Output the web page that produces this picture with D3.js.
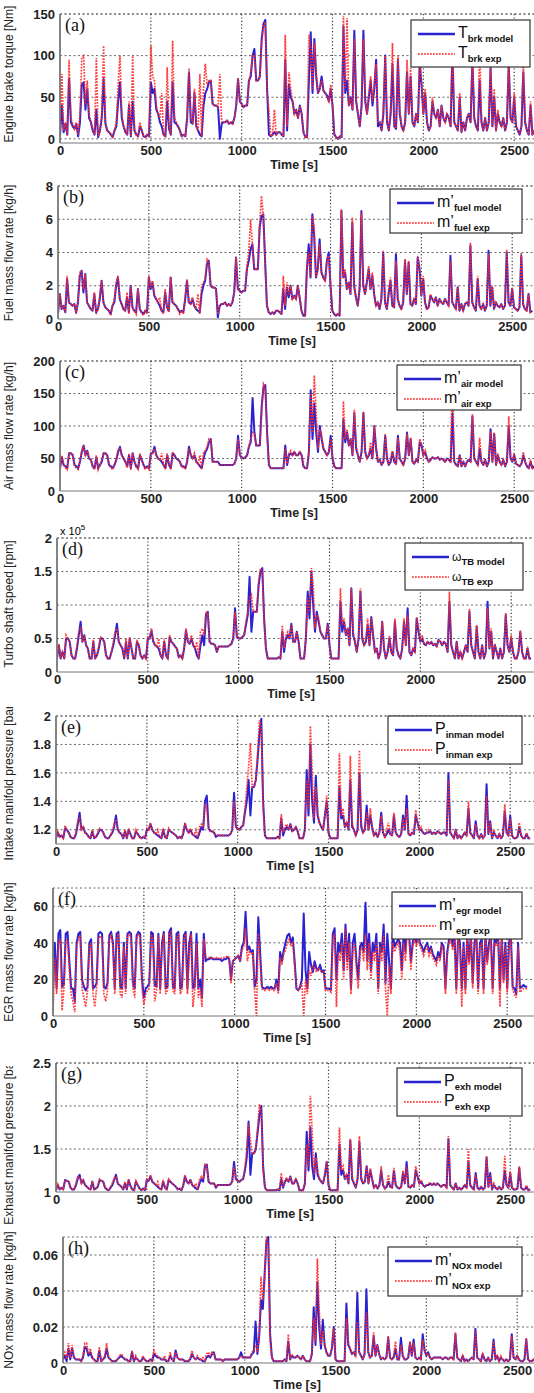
<!DOCTYPE html>
<html><head><meta charset="utf-8">
<script src="https://cdn.jsdelivr.net/npm/d3@7"></script>
<style>body{margin:0;background:#fff}svg{display:block}</style>
</head><body>
<svg id="chart" width="534" height="1393"></svg>
<script>
// ---- DATA (sampled every 10 s, t = 0 ... 2610 s) ----
const timeStep = 10;
const xTickValues = [0, 500, 1000, 1500, 2000, 2500];

const torqueModel = [3,40,8,18,5,72,20,15,12,18, 3,20,65,68,35,60,25,20,10,5, 35,2,10,25,72,18,10,8,5,2, 10,15,45,68,25,15,8,5,40,3, 45,10,5,3,15,10,3,2,5,3, 68,55,60,35,30,20,15,5,3,45, 12,5,68,20,18,15,10,3,5,3, 25,80,20,18,55,15,10,5,3,40, 55,60,68,70,42,40,40,38,0,18, 20,20,22,18,20,18,25,40,72,45, 42,38,40,40,70,75,100,108,70,70, 75,120,138,143,60,5,3,5,8,5, 8,8,5,3,95,10,65,50,45,30, 35,25,40,30,8,2,2,70,128,55, 120,75,55,60,75,58,55,52,45,60, 40,5,2,0,3,2,135,55,70,40, 50,35,130,45,30,15,40,130,45,30, 50,70,40,60,95,15,20,10,30,100, 20,10,30,90,15,12,95,30,15,10, 20,80,30,75,20,15,30,20,90,65, 30,55,20,10,15,45,30,25,35,15, 40,25,20,30,25,15,105,20,15,10, 50,8,20,10,25,30,20,95,25,15, 10,70,20,10,25,10,20,85,15,50, 10,30,20,15,25,10,20,90,25,20, 50,15,10,5,15,80,20,10,5,40, 5,10];
const torqueExp = [5,78,10,20,5,95,25,18,12,20, 5,30,98,100,40,70,30,20,12,5, 97,3,10,30,112,20,10,8,5,2, 10,20,65,100,30,15,10,5,45,3, 100,10,5,3,20,10,3,2,5,3, 112,75,70,40,30,25,55,5,3,86, 15,5,118,25,20,15,10,3,5,3, 30,85,25,18,60,15,10,78,3,60, 90,65,70,70,42,40,40,38,78,20, 20,20,22,18,20,18,25,40,72,45, 42,38,40,40,70,80,100,100,70,70, 75,115,135,140,55,35,3,5,35,5, 8,8,5,3,125,15,80,60,45,30, 35,25,40,30,8,2,2,125,110,60, 115,80,55,60,70,58,55,50,45,65, 40,5,2,0,3,2,148,60,145,40, 50,35,120,45,30,15,40,120,50,30, 55,75,45,65,90,20,20,10,35,100, 25,10,35,115,15,12,100,35,15,10, 20,95,30,85,20,15,30,20,100,70, 30,60,20,10,15,50,30,25,35,15, 40,25,20,30,25,15,120,20,15,10, 55,8,20,10,25,30,20,100,25,15, 10,110,20,10,25,10,20,90,15,60, 10,35,20,15,25,10,20,95,25,20, 55,15,10,5,15,90,20,10,5,45, 5,10];

const fuelModel = [0.3,1.5,0.6,0.8,0.4,2.4,1.0,0.9,0.8,0.9, 0.4,1.0,2.6,2.9,1.6,2.7,1.0,0.8,0.6,0.5, 1.5,0.4,0.6,1.2,2.3,1.0,0.7,0.6,0.5,0.3, 0.8,1.0,2.0,2.5,1.2,0.9,0.6,0.5,1.3,0.4, 2.0,0.7,0.5,0.4,1.8,0.6,0.4,0.3,0.5,0.4, 2.5,1.8,2.2,1.4,1.2,1.0,0.8,0.5,0.4,1.6, 0.7,0.5,2.5,1.0,0.9,0.8,0.6,0.4,0.5,0.4, 1.2,2.3,1.0,0.9,1.2,0.8,0.6,0.5,0.4,1.5, 2.0,2.3,3.3,3.5,2.0,1.9,1.9,1.8,0.1,0.8, 0.9,0.9,1.0,0.8,0.9,0.8,1.0,1.6,3.7,1.8, 1.7,1.6,1.7,1.7,3.0,3.5,4.2,4.5,3.0,3.0, 3.0,5.5,6.2,6.3,3.5,0.8,0.4,0.3,0.4,0.3, 0.5,0.5,0.4,0.3,1.8,0.6,1.9,1.3,2.0,1.2, 1.4,1.2,2.0,1.3,0.5,0.2,0.2,3.0,4.5,2.5, 6.3,5.0,2.5,3.0,4.8,2.8,2.5,2.3,3.5,4.0, 2.0,0.5,0.3,0.2,0.3,0.2,6.5,2.5,2.8,1.8, 2.2,1.5,5.8,2.0,1.3,0.8,1.8,6.5,2.0,1.5, 2.2,3.0,1.8,2.6,1.5,0.8,1.0,0.6,1.2,4.0, 1.0,0.6,1.5,2.3,0.8,0.7,3.9,1.2,0.8,0.6, 1.0,3.5,1.5,3.4,0.9,0.8,1.2,0.9,3.7,3.0, 1.4,2.4,1.0,0.6,0.7,1.4,1.2,1.0,1.3,0.8, 1.2,1.0,0.9,1.2,1.0,0.8,3.8,1.0,0.8,0.6, 1.9,0.5,0.9,0.5,0.9,1.0,0.8,4.4,1.0,0.7, 0.5,2.4,0.8,0.6,0.9,0.5,0.8,4.1,0.8,1.9, 0.6,1.0,0.8,0.7,0.9,0.6,0.8,4.0,1.0,0.8, 1.8,0.7,0.6,0.5,0.7,3.8,0.9,0.6,0.5,1.5, 0.4,0.5];
const fuelExp = [0.3,1.5,0.6,0.8,0.4,2.6,1.0,0.9,0.8,0.9, 0.3,1.2,2.8,2.9,1.8,2.7,1.0,0.8,0.6,0.5, 1.6,0.3,0.6,1.4,2.3,1.0,0.7,0.6,0.5,0.2, 0.8,1.2,2.2,2.6,1.3,0.9,0.6,0.5,1.6,0.3, 2.0,0.7,0.5,0.3,1.8,0.6,0.4,0.2,0.5,0.3, 2.6,1.9,2.3,1.5,1.2,1.0,1.3,0.5,0.3,1.8, 0.7,0.4,2.5,1.1,0.9,0.8,0.6,0.3,0.5,0.3, 1.3,2.4,1.0,0.9,1.3,0.8,0.6,1.5,0.3,2.0, 2.2,2.4,3.6,3.5,2.0,1.9,1.9,1.8,0.3,0.8, 0.9,0.9,1.0,0.8,0.9,0.8,1.0,1.6,3.7,1.8, 1.7,1.6,1.7,1.7,3.2,4.0,6.0,4.5,3.0,3.0, 3.0,5.8,7.4,6.2,3.3,0.8,0.4,0.3,0.4,0.3, 0.5,0.5,0.4,0.3,2.6,0.8,2.2,1.5,2.0,1.2, 1.4,1.2,2.0,1.3,0.5,0.2,0.2,3.2,4.0,2.5, 6.2,5.5,2.5,3.0,4.5,2.8,2.5,2.3,3.5,3.8, 2.0,0.5,0.3,0.2,0.3,0.2,6.6,2.5,3.0,1.8, 2.2,1.5,6.1,2.0,1.3,0.8,1.8,6.4,2.0,1.5, 2.2,3.2,1.8,2.8,1.5,0.8,1.0,0.6,1.2,4.1, 1.0,0.6,1.7,2.5,0.8,0.7,3.5,1.2,0.8,0.6, 1.0,3.6,1.5,3.5,0.9,0.8,1.2,0.9,3.8,3.0, 1.4,2.6,1.0,0.6,0.7,1.5,1.2,1.0,1.3,0.8, 1.2,1.0,0.9,1.2,1.0,0.8,3.5,1.0,0.8,0.6, 2.0,0.5,0.9,0.5,0.9,1.0,0.8,4.6,1.0,0.7, 0.5,2.6,0.8,0.6,0.9,0.5,0.8,3.9,0.8,2.0, 0.6,1.0,0.8,0.7,0.9,0.6,0.8,4.2,1.0,0.8, 1.9,0.7,0.6,0.5,0.7,4.0,0.9,0.6,0.5,1.5, 0.4,0.5];

const airModel = [35,52,40,38,35,58,58,55,40,38, 35,45,60,70,55,62,50,48,38,35, 52,35,40,45,58,58,55,40,38,35, 40,48,60,68,55,50,45,38,55,35, 58,45,38,35,55,48,40,35,38,35, 58,58,68,55,50,48,45,40,35,55, 40,35,58,55,50,48,45,38,38,35, 45,68,55,50,55,45,42,38,35,50, 60,65,75,80,45,45,45,45,40,40, 40,40,40,40,40,40,42,50,85,55, 52,50,52,55,68,75,143,90,70,70, 70,130,160,163,90,40,35,35,35,35, 35,35,35,35,70,40,55,58,55,60, 55,55,60,55,38,35,35,60,155,80, 135,90,60,100,80,65,60,55,60,85, 50,38,35,35,35,35,110,75,90,70, 80,55,120,65,55,45,60,120,60,50, 55,65,50,100,65,45,48,40,45,85, 50,40,45,60,45,42,85,50,45,40, 50,90,55,80,45,42,48,45,75,70, 55,60,50,45,48,52,50,50,52,48, 50,48,45,50,48,45,120,45,40,38, 55,38,45,38,45,48,45,115,50,45, 40,65,45,40,48,38,45,95,45,88, 40,55,45,40,48,38,45,100,50,45, 55,42,40,38,42,55,45,38,35,45, 35,38];
const airExp = [33,55,40,36,33,58,58,55,38,35, 33,48,62,68,55,62,50,48,36,33, 55,33,40,48,58,58,55,40,36,33, 40,50,62,65,55,50,45,36,58,33, 58,45,36,33,58,48,40,33,38,33, 58,58,65,55,50,48,58,40,33,58, 40,33,60,55,50,48,45,36,38,33, 48,65,55,50,58,45,42,55,33,60, 62,68,80,78,45,45,45,45,40,40, 40,40,40,40,40,40,42,50,80,55, 52,50,52,55,70,80,90,88,70,70, 72,120,165,160,85,40,35,35,35,35, 35,35,35,35,65,42,58,62,55,60, 55,55,60,55,38,35,35,60,150,90, 178,120,65,95,85,65,60,55,60,80, 50,38,35,35,35,35,138,80,95,70, 80,55,125,70,55,45,60,122,60,50, 55,75,50,100,65,45,48,40,45,88, 50,40,48,62,45,42,82,50,45,40, 50,88,55,82,45,42,48,45,80,72, 55,62,50,45,48,52,50,50,52,48, 50,48,45,50,48,45,190,45,40,38, 55,38,45,38,45,48,45,118,50,45, 40,82,45,40,48,38,45,92,45,90, 40,58,45,40,48,38,45,115,50,45, 58,42,40,38,42,60,45,38,35,48, 35,38];

const turboModel = [0.2,0.4,0.2,0.3,0.2,0.5,0.5,0.45,0.25,0.2, 0.2,0.35,0.55,0.75,0.45,0.55,0.4,0.35,0.2,0.2, 0.45,0.2,0.25,0.35,0.5,0.5,0.45,0.25,0.2,0.2, 0.3,0.4,0.55,0.72,0.45,0.4,0.35,0.2,0.45,0.2, 0.5,0.35,0.2,0.2,0.45,0.4,0.25,0.2,0.25,0.2, 0.5,0.5,0.62,0.45,0.4,0.38,0.35,0.25,0.2,0.45, 0.25,0.2,0.52,0.45,0.42,0.38,0.35,0.22,0.25,0.2, 0.35,0.62,0.45,0.42,0.5,0.4,0.35,0.25,0.2,0.4, 0.55,0.4,0.85,0.9,0.45,0.42,0.42,0.4,0.3,0.38, 0.38,0.38,0.38,0.38,0.38,0.4,0.42,0.5,0.95,0.52, 0.5,0.5,0.52,0.55,0.7,0.85,1.42,0.6,0.9,0.9, 0.9,1.3,1.5,1.55,0.8,0.35,0.2,0.2,0.2,0.2, 0.2,0.2,0.22,0.2,0.6,0.3,0.5,0.55,0.5,0.72, 0.45,0.45,0.6,0.45,0.2,0.2,0.2,0.5,1.2,0.8, 1.5,1.0,0.6,0.9,0.75,0.6,0.55,0.5,0.5,0.72, 0.4,0.2,0.2,0.2,0.2,0.2,1.05,0.6,0.75,0.55, 0.65,0.4,1.25,0.55,0.45,0.3,0.5,1.2,0.5,0.4, 0.45,0.7,0.4,0.82,0.55,0.3,0.35,0.2,0.3,0.75, 0.35,0.2,0.3,0.5,0.3,0.25,0.75,0.35,0.25,0.2, 0.35,0.75,0.4,0.95,0.3,0.25,0.35,0.3,0.8,0.6, 0.45,0.5,0.42,0.4,0.45,0.42,0.45,0.4,0.42,0.38, 0.48,0.45,0.4,0.45,0.42,0.3,1.05,0.4,0.3,0.2, 0.45,0.2,0.3,0.2,0.3,0.4,0.3,0.9,0.4,0.3, 0.2,0.68,0.3,0.2,0.4,0.2,0.3,1.05,0.35,0.6, 0.2,0.4,0.3,0.2,0.35,0.2,0.3,0.85,0.4,0.3, 0.5,0.3,0.2,0.2,0.3,0.6,0.3,0.2,0.2,0.35, 0.2,0.2];
const turboExp = [0.2,0.42,0.2,0.3,0.2,0.55,0.5,0.45,0.25,0.2, 0.2,0.4,0.6,0.65,0.45,0.55,0.4,0.35,0.2,0.2, 0.48,0.2,0.25,0.38,0.52,0.5,0.45,0.25,0.2,0.2, 0.3,0.45,0.6,0.65,0.45,0.4,0.35,0.2,0.5,0.2, 0.52,0.35,0.2,0.2,0.48,0.4,0.25,0.2,0.25,0.2, 0.52,0.5,0.65,0.48,0.4,0.38,0.5,0.25,0.2,0.5, 0.25,0.2,0.55,0.45,0.42,0.38,0.35,0.22,0.25,0.2, 0.38,0.65,0.45,0.42,0.55,0.4,0.35,0.45,0.2,0.6, 0.65,0.55,0.9,0.88,0.45,0.42,0.42,0.4,0.3,0.38, 0.38,0.38,0.38,0.38,0.38,0.4,0.42,0.5,0.9,0.52, 0.5,0.5,0.52,0.55,0.75,0.9,1.1,1.15,0.9,0.9, 0.9,1.35,1.55,1.5,0.75,0.35,0.2,0.2,0.2,0.2, 0.2,0.2,0.22,0.2,0.7,0.35,0.55,0.6,0.5,0.7, 0.45,0.45,0.6,0.45,0.2,0.2,0.2,0.55,1.1,0.9, 1.55,1.3,0.65,0.85,0.8,0.6,0.55,0.5,0.5,0.7, 0.4,0.2,0.2,0.2,0.2,0.2,1.25,0.7,0.8,0.55, 0.65,0.4,1.25,0.6,0.45,0.3,0.5,1.25,0.55,0.4, 0.45,0.8,0.4,0.82,0.55,0.3,0.35,0.2,0.3,0.75, 0.35,0.2,0.3,0.55,0.3,0.25,0.8,0.35,0.25,0.2, 0.35,0.8,0.4,0.85,0.3,0.25,0.35,0.3,0.82,0.65, 0.45,0.55,0.42,0.4,0.45,0.42,0.45,0.4,0.42,0.38, 0.48,0.45,0.4,0.45,0.42,0.3,1.2,0.4,0.3,0.2, 0.45,0.2,0.3,0.2,0.3,0.4,0.3,0.95,0.4,0.3, 0.2,0.7,0.3,0.2,0.4,0.2,0.3,0.95,0.35,0.65, 0.2,0.42,0.3,0.2,0.35,0.2,0.3,0.88,0.4,0.3, 0.55,0.3,0.2,0.2,0.3,0.62,0.3,0.2,0.2,0.38, 0.2,0.2];

const intakeModel = [1.14,1.18,1.15,1.16,1.14,1.21,1.2,1.18,1.15,1.14, 1.14,1.17,1.24,1.32,1.2,1.22,1.18,1.17,1.15,1.14, 1.19,1.14,1.15,1.17,1.2,1.2,1.18,1.15,1.14,1.14, 1.16,1.18,1.22,1.3,1.2,1.18,1.17,1.14,1.19,1.14, 1.2,1.17,1.14,1.14,1.19,1.17,1.15,1.14,1.15,1.14, 1.2,1.2,1.24,1.2,1.18,1.17,1.16,1.15,1.14,1.2, 1.15,1.14,1.2,1.19,1.18,1.17,1.16,1.14,1.15,1.14, 1.17,1.24,1.2,1.18,1.2,1.17,1.16,1.15,1.14,1.18, 1.22,1.2,1.4,1.44,1.21,1.19,1.19,1.18,1.15,1.16, 1.16,1.16,1.16,1.16,1.16,1.16,1.17,1.2,1.46,1.22, 1.21,1.2,1.22,1.23,1.32,1.4,1.55,1.3,1.5,1.5, 1.55,1.7,1.88,1.98,1.4,1.16,1.14,1.14,1.14,1.14, 1.14,1.14,1.15,1.14,1.28,1.16,1.2,1.22,1.2,1.24, 1.19,1.2,1.22,1.19,1.14,1.14,1.14,1.2,1.62,1.3, 1.8,1.4,1.25,1.58,1.3,1.25,1.22,1.2,1.3,1.4, 1.18,1.14,1.14,1.14,1.14,1.14,1.5,1.28,1.3,1.22, 1.25,1.2,1.55,1.22,1.2,1.16,1.2,1.6,1.22,1.18, 1.2,1.37,1.2,1.3,1.22,1.16,1.18,1.15,1.18,1.32, 1.18,1.15,1.17,1.2,1.17,1.16,1.3,1.18,1.16,1.15, 1.17,1.3,1.2,1.44,1.17,1.16,1.18,1.17,1.3,1.25, 1.2,1.2,1.18,1.17,1.18,1.18,1.19,1.17,1.18,1.17, 1.19,1.18,1.17,1.18,1.18,1.16,1.6,1.18,1.16,1.14, 1.2,1.14,1.16,1.14,1.16,1.18,1.16,1.35,1.18,1.16, 1.14,1.26,1.16,1.14,1.17,1.14,1.16,1.52,1.17,1.26, 1.14,1.18,1.16,1.14,1.17,1.14,1.16,1.33,1.18,1.16, 1.3,1.16,1.14,1.14,1.15,1.22,1.16,1.14,1.14,1.17, 1.14,1.14];
const intakeExp = [1.14,1.19,1.15,1.16,1.14,1.23,1.2,1.18,1.15,1.14, 1.14,1.18,1.26,1.28,1.2,1.22,1.18,1.17,1.15,1.14, 1.2,1.14,1.15,1.18,1.21,1.2,1.18,1.15,1.14,1.14, 1.16,1.19,1.24,1.27,1.2,1.18,1.17,1.14,1.2,1.14, 1.21,1.17,1.14,1.14,1.2,1.17,1.15,1.14,1.15,1.14, 1.21,1.2,1.25,1.2,1.18,1.17,1.2,1.15,1.14,1.21, 1.15,1.14,1.21,1.19,1.18,1.17,1.16,1.14,1.15,1.14, 1.18,1.25,1.2,1.18,1.21,1.17,1.16,1.2,1.14,1.22, 1.24,1.22,1.38,1.35,1.21,1.19,1.19,1.18,1.16,1.16, 1.16,1.16,1.16,1.16,1.16,1.16,1.17,1.2,1.4,1.22, 1.21,1.2,1.22,1.23,1.35,1.5,1.64,1.81,1.5,1.5, 1.55,1.75,1.97,1.92,1.35,1.16,1.14,1.14,1.14,1.14, 1.14,1.14,1.15,1.14,1.31,1.18,1.22,1.24,1.2,1.24, 1.19,1.2,1.22,1.19,1.14,1.14,1.14,1.2,1.55,1.35, 1.93,1.6,1.28,1.5,1.32,1.25,1.22,1.2,1.3,1.44, 1.18,1.14,1.14,1.14,1.14,1.14,1.74,1.3,1.35,1.22, 1.25,1.2,1.72,1.25,1.2,1.16,1.2,1.76,1.25,1.18, 1.2,1.32,1.2,1.35,1.22,1.16,1.18,1.15,1.18,1.3, 1.18,1.15,1.2,1.25,1.17,1.16,1.32,1.18,1.16,1.15, 1.17,1.28,1.2,1.35,1.17,1.16,1.18,1.17,1.34,1.25, 1.2,1.22,1.18,1.17,1.18,1.2,1.19,1.17,1.18,1.17, 1.19,1.18,1.17,1.18,1.18,1.16,1.55,1.18,1.16,1.14, 1.2,1.14,1.16,1.14,1.16,1.18,1.16,1.4,1.18,1.16, 1.14,1.24,1.16,1.14,1.17,1.14,1.16,1.44,1.17,1.25, 1.14,1.2,1.16,1.14,1.17,1.14,1.16,1.38,1.18,1.16, 1.28,1.16,1.14,1.14,1.15,1.25,1.16,1.14,1.14,1.18, 1.14,1.14];

const egrModel = [15,40,15,45,47,16,17,45,46,30, 15,15,8,40,45,46,20,16,14,16, 40,42,15,16,18,45,46,45,16,15, 18,44,46,40,15,45,46,16,15,40, 15,45,46,45,18,15,44,46,45,20, 10,15,16,18,46,45,17,16,45,15, 40,46,15,16,46,48,16,15,45,46, 15,16,44,46,15,40,46,15,16,45, 15,20,10,45,30,31,31,32,31,31, 31,31,31,30,31,31,32,31,20,30, 31,32,33,30,38,40,57,36,38,35, 36,16,20,54,35,16,15,15,16,15, 16,15,15,20,14,35,30,36,40,44, 45,40,43,30,15,14,16,20,56,25, 15,35,28,24,30,26,25,28,24,25, 15,15,15,14,45,48,20,40,35,45, 25,50,30,45,15,40,45,30,20,38, 40,35,62,30,45,25,40,35,45,15, 40,35,50,18,45,30,15,45,38,40, 42,40,25,45,35,50,45,30,40,45, 40,45,40,38,35,38,40,35,38,34, 32,30,35,32,40,38,15,35,42,45, 38,45,15,45,40,15,40,15,44,30, 45,18,40,45,15,40,42,15,45,30, 40,45,15,42,40,45,15,44,20,40, 15,40,45,16,15,12,40,15,16,17, 16,16];
const egrExp = [2,32,12,40,42,3,15,40,42,25, 12,8,2,38,42,44,15,10,5,14, 38,40,12,5,15,42,44,42,12,8, 14,42,44,38,12,42,45,12,10,38, 12,44,45,42,15,10,42,45,42,15, 6,12,14,15,44,43,8,14,44,12, 38,45,12,14,45,46,14,12,42,45, 12,14,42,45,12,35,45,5,14,40, 10,15,5,42,32,32,32,32,31,32, 32,32,31,32,32,32,33,32,18,30, 31,32,33,30,36,38,48,30,35,34, 35,14,0,45,30,15,14,14,15,14, 15,14,14,18,12,32,28,34,36,40, 42,38,40,28,15,14,15,18,0,20, 12,25,22,28,26,24,26,25,24,24, 14,14,14,13,42,45,5,35,30,40, 20,48,25,40,12,35,40,25,15,35, 38,30,45,25,40,20,35,30,40,12, 38,30,45,15,0,28,12,40,35,38, 40,35,20,40,30,48,42,25,38,42, 38,42,38,36,33,36,38,33,36,32, 30,28,33,30,38,36,12,33,40,42, 36,42,12,42,38,5,38,12,42,28, 42,15,38,42,12,38,40,12,42,28, 38,42,12,40,38,42,5,42,18,38, 12,38,42,14,12,10,38,13,14,15, 15,15];

const exhaustModel = [1.02,1.08,1.03,1.05,1.03,1.14,1.13,1.12,1.05,1.03, 1.03,1.08,1.16,1.2,1.1,1.14,1.08,1.06,1.04,1.03, 1.12,1.03,1.04,1.06,1.14,1.13,1.12,1.05,1.03,1.02, 1.05,1.08,1.14,1.2,1.1,1.08,1.06,1.03,1.1,1.03, 1.14,1.07,1.03,1.02,1.12,1.08,1.04,1.02,1.04,1.02, 1.14,1.13,1.18,1.12,1.1,1.08,1.06,1.04,1.03,1.12, 1.05,1.03,1.14,1.12,1.1,1.08,1.06,1.03,1.04,1.02, 1.07,1.18,1.12,1.1,1.14,1.08,1.06,1.04,1.03,1.1, 1.15,1.12,1.3,1.32,1.12,1.1,1.1,1.1,1.05,1.08, 1.08,1.08,1.08,1.08,1.08,1.08,1.09,1.12,1.35,1.15, 1.13,1.12,1.14,1.15,1.25,1.4,1.82,1.2,1.45,1.45, 1.5,1.7,1.9,2.0,1.3,1.05,1.02,1.02,1.02,1.02, 1.02,1.02,1.03,1.02,1.15,1.05,1.12,1.15,1.12,1.18, 1.1,1.1,1.15,1.1,1.02,1.02,1.02,1.1,1.7,1.25, 1.75,1.3,1.15,1.45,1.2,1.15,1.12,1.1,1.2,1.35, 1.08,1.02,1.02,1.02,1.02,1.02,1.55,1.2,1.25,1.15, 1.2,1.1,1.6,1.15,1.1,1.05,1.15,1.58,1.15,1.1, 1.12,1.3,1.1,1.25,1.15,1.05,1.08,1.04,1.08,1.25, 1.08,1.04,1.06,1.12,1.06,1.05,1.25,1.08,1.05,1.04, 1.06,1.22,1.1,1.35,1.06,1.05,1.08,1.06,1.25,1.18, 1.1,1.12,1.08,1.06,1.08,1.08,1.1,1.08,1.1,1.08, 1.1,1.08,1.06,1.08,1.08,1.05,1.62,1.08,1.05,1.03, 1.1,1.03,1.05,1.03,1.05,1.08,1.05,1.35,1.08,1.05, 1.03,1.22,1.05,1.03,1.06,1.03,1.05,1.4,1.06,1.22, 1.03,1.08,1.05,1.03,1.06,1.03,1.05,1.25,1.08,1.05, 1.22,1.05,1.03,1.03,1.04,1.28,1.05,1.03,1.03,1.06, 1.02,1.03];
const exhaustExp = [1.02,1.09,1.03,1.05,1.03,1.14,1.13,1.12,1.05,1.03, 1.03,1.1,1.18,1.18,1.1,1.14,1.08,1.06,1.04,1.03, 1.13,1.03,1.04,1.07,1.15,1.13,1.12,1.05,1.03,1.02, 1.05,1.1,1.16,1.18,1.1,1.08,1.06,1.03,1.12,1.03, 1.15,1.07,1.03,1.02,1.13,1.08,1.04,1.02,1.04,1.02, 1.15,1.14,1.2,1.12,1.1,1.08,1.12,1.04,1.03,1.14, 1.05,1.03,1.15,1.12,1.1,1.08,1.06,1.03,1.04,1.02, 1.08,1.2,1.12,1.1,1.15,1.08,1.06,1.1,1.03,1.15, 1.18,1.15,1.32,1.3,1.12,1.1,1.1,1.1,1.06,1.08, 1.08,1.08,1.08,1.08,1.08,1.08,1.09,1.12,1.3,1.15, 1.13,1.12,1.14,1.15,1.28,1.5,1.8,1.6,1.45,1.45, 1.5,1.75,2.02,1.95,1.25,1.05,1.02,1.02,1.02,1.02, 1.02,1.02,1.03,1.02,1.22,1.06,1.14,1.16,1.12,1.18, 1.1,1.1,1.15,1.1,1.02,1.02,1.02,1.1,1.55,1.3, 2.12,1.7,1.2,1.4,1.25,1.15,1.12,1.1,1.2,1.36, 1.08,1.02,1.02,1.02,1.02,1.02,1.75,1.25,1.3,1.15, 1.2,1.1,1.62,1.18,1.1,1.05,1.15,1.65,1.18,1.1, 1.12,1.3,1.1,1.28,1.15,1.05,1.08,1.04,1.08,1.3, 1.08,1.04,1.08,1.2,1.06,1.05,1.28,1.08,1.05,1.04, 1.06,1.25,1.1,1.3,1.06,1.05,1.08,1.06,1.3,1.2, 1.1,1.14,1.08,1.06,1.08,1.1,1.1,1.08,1.1,1.08, 1.1,1.08,1.06,1.08,1.08,1.05,1.65,1.08,1.05,1.03, 1.1,1.03,1.05,1.03,1.05,1.08,1.05,1.5,1.08,1.05, 1.03,1.2,1.05,1.03,1.06,1.03,1.05,1.42,1.06,1.2, 1.03,1.1,1.05,1.03,1.06,1.03,1.05,1.42,1.08,1.05, 1.24,1.05,1.03,1.03,1.04,1.3,1.05,1.03,1.03,1.08, 1.02,1.03];

const noxModel = [.002,.004,.001,.008,.002,.008,.003,.002,.002,.002, .001,.003,.009,.008,.004,.006,.003,.002,.001,.001, .007,.001,.002,.003,.008,.003,.002,.001,.001,.001, .002,.003,.004,.003,.002,.002,.001,.001,.006,.001, .003,.002,.001,.001,.003,.002,.001,.001,.002,.001, .005,.004,.003,.003,.002,.002,.002,.001,.001,.004, .002,.001,.007,.003,.002,.002,.002,.001,.001,.001, .002,.005,.003,.002,.003,.002,.002,.001,.001,.003, .004,.003,.005,.006,.002,.002,.002,.002,.001,.002, .002,.002,.002,.002,.002,.002,.002,.003,.006,.003, .003,.003,.003,.003,.005,.006,.023,.005,.015,.035, .03,.05,.068,.07,.016,.003,.001,.001,.001,.001, .001,.001,.002,.001,.012,.002,.004,.003,.003,.004, .003,.002,.004,.002,.001,.001,.001,.005,.031,.01, .045,.02,.008,.024,.01,.006,.004,.004,.008,.02, .002,.001,.001,.001,.001,.001,.033,.01,.008,.005, .006,.004,.039,.006,.004,.002,.005,.041,.006,.003, .004,.015,.004,.01,.005,.002,.003,.002,.003,.014, .003,.002,.003,.008,.002,.002,.014,.004,.002,.002, .003,.011,.004,.013,.003,.002,.003,.002,.016,.007, .004,.006,.003,.002,.003,.003,.003,.003,.003,.002, .003,.003,.002,.003,.003,.002,.016,.003,.002,.001, .004,.001,.002,.001,.002,.003,.002,.019,.003,.002, .001,.005,.002,.001,.003,.001,.002,.013,.002,.004, .001,.003,.002,.001,.002,.001,.002,.016,.003,.002, .004,.002,.001,.001,.002,.013,.002,.001,.001,.002, .001,.001];
const noxExp = [.004,.006,.002,.011,.003,.01,.004,.002,.002,.002, .001,.004,.011,.011,.005,.008,.004,.002,.001,.001, .009,.001,.002,.004,.011,.004,.002,.001,.001,.001, .002,.004,.005,.004,.002,.002,.001,.001,.007,.001, .004,.002,.001,.001,.004,.002,.001,.001,.002,.001, .007,.005,.004,.003,.002,.002,.004,.001,.001,.006, .002,.001,.006,.003,.002,.002,.002,.001,.001,.001, .003,.007,.003,.002,.004,.002,.002,.003,.001,.005, .006,.004,.006,.005,.002,.002,.002,.002,.001,.002, .002,.002,.002,.002,.002,.002,.002,.003,.004,.003, .003,.003,.003,.003,.006,.007,.01,.006,.015,.048, .035,.045,.07,.065,.012,.003,.001,.001,.001,.001, .001,.001,.002,.001,.016,.003,.005,.003,.003,.004, .003,.002,.004,.002,.001,.001,.001,.006,.025,.012, .058,.03,.01,.018,.01,.006,.004,.004,.008,.019, .002,.001,.001,.001,.001,.001,.025,.012,.008,.005, .006,.004,.023,.006,.004,.002,.005,.028,.006,.003, .004,.017,.004,.01,.005,.002,.003,.002,.003,.015, .003,.002,.004,.012,.002,.002,.01,.004,.002,.002, .003,.012,.004,.011,.003,.002,.003,.002,.013,.007, .004,.005,.003,.002,.003,.003,.003,.003,.003,.002, .003,.003,.002,.003,.003,.002,.017,.003,.002,.001, .004,.001,.002,.001,.002,.003,.002,.018,.003,.002, .001,.005,.002,.001,.003,.001,.002,.012,.002,.004, .001,.004,.002,.001,.002,.001,.002,.015,.003,.002, .004,.002,.001,.001,.002,.014,.002,.001,.001,.002, .001,.001];

// y tick values per panel
const torqueTicks = [0, 50, 100, 150];
const fuelTicks = [0, 2, 4, 6, 8];
const airTicks = [0, 50, 100, 150, 200];
const turboTicks = [0, 0.5, 1, 1.5, 2];
const intakeTicks = [1.2, 1.4, 1.6, 1.8, 2];
const egrTicks = [0, 20, 40, 60];
const exhaustTicks = [1, 1.5, 2, 2.5];
const noxTicks = [0, 0.02, 0.04, 0.06];

// ---- LAYOUT ----
const panels = [
  {tag:"(a)", model:torqueModel, exp:torqueExp, ticks:torqueTicks, domain:[-5,150], left:60, top:14, bottom:143,
   ylabel:"Engine brake  torque [Nm]", ly:74, clip:[0,172], sym:"T", sub:"brk", legend:[411,20,119,47]},
  {tag:"(b)", model:fuelModel, exp:fuelExp, ticks:fuelTicks, domain:[0,8], left:58, top:186, bottom:319,
   ylabel:"Fuel mass flow rate [kg/h]", ly:253, clip:[172,350], sym:"m\u2019", sub:"fuel", legend:[390,189,132,44]},
  {tag:"(c)", model:airModel, exp:airExp, ticks:airTicks, domain:[0,200], left:60, top:361, bottom:491,
   ylabel:"Air mass flow rate [kg/h]", ly:426, clip:[350,522], sym:"m\u2019", sub:"air", legend:[397,365,124,45]},
  {tag:"(d)", model:turboModel, exp:turboExp, ticks:turboTicks, domain:[0,2], left:57, top:538, bottom:672,
   ylabel:"Turbo shaft speed [rpm]", ly:604, clip:[522,698], sym:"\u03C9", sub:"TB", legend:[405,543,118,47], exponent:true},
  {tag:"(e)", model:intakeModel, exp:intakeExp, ticks:intakeTicks, domain:[1.1,2], left:56, top:716, bottom:844,
   ylabel:"Intake manifold pressure [bar]", ly:781, clip:[707,872], sym:"P", sub:"inman", legend:[388,716,134,48]},
  {tag:"(f)", model:egrModel, exp:egrExp, ticks:egrTicks, domain:[0,70], left:53, top:888, bottom:1016,
   ylabel:"EGR mass flow rate [kg/h]", ly:952, clip:[872,1042], sym:"m\u2019", sub:"egr", legend:[392,892,130,47]},
  {tag:"(g)", model:exhaustModel, exp:exhaustExp, ticks:exhaustTicks, domain:[1,2.5], left:56, top:1063, bottom:1192,
   ylabel:"Exhaust manifold pressure [bar]", ly:1140, clip:[1066,1232], sym:"P", sub:"exh", legend:[397,1068,125,48]},
  {tag:"(h)", model:noxModel, exp:noxExp, ticks:noxTicks, domain:[0,0.07], left:63, top:1237, bottom:1363,
   ylabel:"NOx mass flow rate [kg/h]", ly:1300, clip:[1232,1393], sym:"m\u2019", sub:"NOx", legend:[388,1247,134,49]}
];

const svg = d3.select("#chart");
const defs = svg.append("defs");
const BLUE = "#2a22d0", RED = "#ff2a2a";
const tickFont = "'Liberation Sans', Arial, sans-serif";
const fmt = v => String(+v.toFixed(3));

panels.forEach((p, k) => {
  const x = d3.scaleLinear().domain([0, 2620]).range([p.left, p.left + 476]);
  const y = d3.scaleLinear().domain(p.domain).range([p.bottom, p.top]);
  const g = svg.append("g");
  const cid = "plotclip" + k;
  defs.append("clipPath").attr("id", cid).append("rect")
    .attr("x", p.left).attr("y", p.top - 1).attr("width", 534 - p.left + 2).attr("height", p.bottom - p.top + 2);
  const lid = "labelclip" + k;
  defs.append("clipPath").attr("id", lid).append("rect")
    .attr("x", 0).attr("y", p.clip[0]).attr("width", 30).attr("height", p.clip[1] - p.clip[0]);

  // horizontal grid
  g.selectAll(".hg").data(p.ticks.filter(t => t > p.domain[0])).join("line")
    .attr("x1", p.left).attr("x2", 534).attr("y1", d => y(d)).attr("y2", d => y(d))
    .attr("stroke", "#666").attr("stroke-width", 1).attr("stroke-dasharray", "2,2.5");
  // top border
  g.append("line").attr("x1", p.left).attr("x2", 534).attr("y1", p.top).attr("y2", p.top)
    .attr("stroke", "#666").attr("stroke-dasharray", "2,2.5");
  // vertical grid
  g.selectAll(".vg").data(xTickValues.filter(t => t > 0)).join("line")
    .attr("x1", d => x(d)).attr("x2", d => x(d)).attr("y1", p.top).attr("y2", p.bottom)
    .attr("stroke", "#333").attr("stroke-width", 1.2).attr("stroke-dasharray", "1.2,2.2");

  const line = d3.line().x((d, i) => x(i * timeStep)).y(d => y(d));
  g.append("path").datum(p.model).attr("d", line).attr("fill", "none")
    .attr("stroke", BLUE).attr("stroke-width", 2).attr("stroke-linejoin", "round").attr("clip-path", `url(#${cid})`);
  g.append("path").datum(p.exp).attr("d", line).attr("fill", "none")
    .attr("stroke", RED).attr("stroke-width", 1.7).attr("stroke-dasharray", "1.8,1.2")
    .attr("opacity", 0.9).attr("clip-path", `url(#${cid})`);

  // axes lines
  g.append("line").attr("x1", p.left).attr("x2", p.left).attr("y1", p.top).attr("y2", p.bottom)
    .attr("stroke", "#777").attr("stroke-width", 1.8);
  g.append("line").attr("x1", p.left).attr("x2", 534).attr("y1", p.bottom).attr("y2", p.bottom)
    .attr("stroke", "#777").attr("stroke-width", 1);

  // y axis
  const ya = g.append("g").attr("transform", `translate(${p.left},0)`)
    .call(d3.axisLeft(y).tickValues(p.ticks).tickFormat(fmt).tickSize(0).tickPadding(5));
  ya.select(".domain").remove();
  ya.selectAll("text").attr("font-family", tickFont).attr("font-weight", "bold")
    .attr("font-size", 13).attr("fill", "#222");
  // x axis
  const xa = g.append("g").attr("transform", `translate(0,${p.bottom})`)
    .call(d3.axisBottom(x).tickValues(xTickValues).tickFormat(d3.format("d")).tickSize(0).tickPadding(3));
  xa.select(".domain").remove();
  xa.selectAll("text").attr("font-family", tickFont).attr("font-weight", "bold")
    .attr("font-size", 13).attr("fill", "#222");
  // x label
  g.append("text").attr("x", p.left + 234).attr("y", p.bottom + 26).attr("text-anchor", "middle")
    .attr("font-family", tickFont).attr("font-weight", "bold").attr("font-size", 12.5).attr("fill", "#222")
    .text("Time [s]");
  // y label
  g.append("g").attr("clip-path", `url(#${lid})`).append("text")
    .attr("transform", `translate(13,${p.ly}) rotate(-90)`).attr("text-anchor", "middle")
    .attr("font-family", tickFont).attr("font-size", 12).attr("fill", "#222")
    .text(p.ylabel);
  // panel tag
  g.append("text").attr("x", p.left + 5).attr("y", p.top + 17)
    .attr("font-family", "'Liberation Serif', 'Times New Roman', serif").attr("font-size", 18).attr("fill", "#111")
    .text(p.tag);
  if (p.exponent) {
    const e = g.append("text").attr("x", p.left + 3).attr("y", p.top - 3)
      .attr("font-family", tickFont).attr("font-size", 11).attr("fill", "#000");
    e.append("tspan").text("x 10");
    e.append("tspan").attr("dy", -5).attr("font-size", 8).text("5");
  }
  // legend
  const [lx, ly, lw, lh] = p.legend;
  const lg = g.append("g");
  lg.append("rect").attr("x", lx).attr("y", ly).attr("width", lw).attr("height", lh)
    .attr("fill", "#fff").attr("stroke", "#333").attr("stroke-width", 1.2);
  const rows = [{lab:"model", c:BLUE, dash:null, w:2.6}, {lab:"exp", c:RED, dash:"1.8,1.2", w:1.6}];
  rows.forEach((r, j) => {
    const cy = ly + 14 + j * 20;
    lg.append("line").attr("x1", lx + 7).attr("x2", lx + 44).attr("y1", cy).attr("y2", cy)
      .attr("stroke", r.c).attr("stroke-width", r.w).attr("stroke-dasharray", r.dash);
    const t = lg.append("text").attr("x", lx + 47).attr("y", cy + 4)
      .attr("font-family", tickFont).attr("fill", "#111");
    t.append("tspan").attr("font-size", p.sym === "\u03C9" ? 12 : 16).text(p.sym);
    t.append("tspan").attr("font-size", 9.5).attr("font-weight", "bold").attr("dy", 4).text(p.sub + " " + r.lab);
  });
});
</script>
</body></html>
